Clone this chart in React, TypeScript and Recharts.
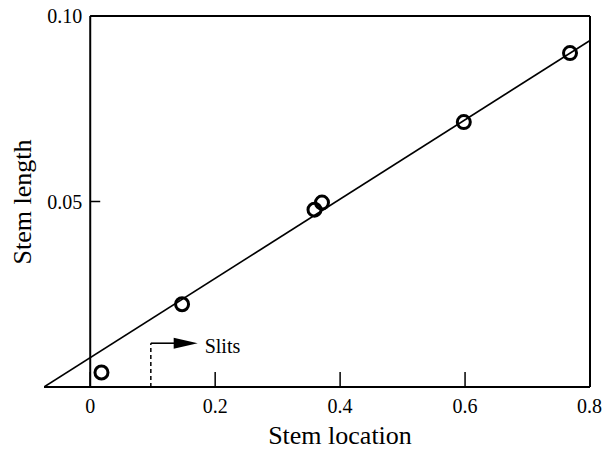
import React from 'react';
import {
  ComposedChart,
  Scatter,
  Line,
  XAxis,
  YAxis,
  ReferenceLine,
  ReferenceDot
} from 'recharts';

// measured points
const stemLocation = [0.018, 0.147, 0.359, 0.371, 0.598, 0.768];
const stemLength = [0.0039, 0.0223, 0.0478, 0.0497, 0.0714, 0.09];

// fitted line end points
const fitLocation = [-0.074, 0.8];
const fitLength = [0, 0.0934];

const xTicks = [0, 0.2, 0.4, 0.6, 0.8];
const xTickLabels = ['0', '0.2', '0.4', '0.6', '0.8'];
const yTicks = [0.05, 0.1];
const yTickLabels = ['0.05', '0.10'];

// "Slits" marker
const slitStart = 0.097;
const slitShaftEnd = 0.135;
const slitArrowTip = 0.172;
const slitLevel = 0.0118;

const X_MIN = -0.074;
const X_MAX = 0.8;
const FONT = 'Liberation Serif, Times New Roman, serif';

const WIDTH = 602;
const HEIGHT = 450;
const PLOT_LEFT = 44;
const PLOT_RIGHT = 590;
const ZERO_X = PLOT_LEFT + ((0 - X_MIN) / (X_MAX - X_MIN)) * (PLOT_RIGHT - PLOT_LEFT);

const points = stemLocation.map((x, i) => ({ x, y: stemLength[i] }));
const fit = fitLocation.map((x, i) => ({ x, y: fitLength[i] }));

const OpenCircle = (props: any) => (
  <circle cx={props.cx} cy={props.cy} r={6.5} fill="none" stroke="#000" strokeWidth={3} />
);

const YTick = (props: any) => {
  const { y, payload } = props;
  const idx = yTicks.indexOf(payload.value);
  return (
    <g>
      <text
        x={ZERO_X - 8}
        y={y}
        textAnchor="end"
        dominantBaseline="central"
        fill="#000"
        fontSize={20}
        style={{ fontFamily: FONT }}
      >
        {yTickLabels[idx]}
      </text>
      <line x1={ZERO_X} x2={ZERO_X + 10} y1={y} y2={y} stroke="#000" strokeWidth={1.5} />
    </g>
  );
};

const SlitArrow = (props: any) => {
  const { cx, cy } = props;
  return (
    <g>
      <polygon points={`${cx},${cy} ${cx - 24},${cy - 5.5} ${cx - 24},${cy + 5.5}`} fill="#000" />
      <text x={cx + 7} y={cy + 3} dominantBaseline="central" fontSize={20} style={{ fontFamily: FONT }} fill="#000">
        Slits
      </text>
    </g>
  );
};

export default function App() {
  return (
    <div style={{ position: 'absolute', left: 0, top: 0, background: '#fff' }}>
      <ComposedChart
        width={WIDTH}
        height={HEIGHT}
        margin={{ top: 16, right: WIDTH - PLOT_RIGHT, bottom: 0, left: 0 }}
      >
        <XAxis
          type="number"
          dataKey="x"
          domain={[X_MIN, X_MAX]}
          ticks={xTicks}
          tickFormatter={(v: number) => xTickLabels[xTicks.indexOf(v)]}
          allowDataOverflow
          height={63}
          tickSize={-15}
          tickMargin={27}
          axisLine={{ stroke: '#000', strokeWidth: 2 }}
          tickLine={{ stroke: '#000', strokeWidth: 1.5 }}
          tick={{ fill: '#000', fontSize: 20, style: { fontFamily: FONT } }}
          label={{
            content: () => (
              <text x={340} y={435} textAnchor="middle" dominantBaseline="central" fontSize={26} style={{ fontFamily: FONT }} fill="#000">
                Stem location
              </text>
            )
          }}
        />
        <YAxis
          type="number"
          dataKey="y"
          domain={[0, 0.1]}
          ticks={yTicks}
          allowDataOverflow
          width={PLOT_LEFT}
          axisLine={false}
          tickLine={false}
          tick={<YTick />}
          label={{
            content: () => (
              <text
                x={22}
                y={202}
                textAnchor="middle"
                dominantBaseline="central"
                fontSize={26}
                style={{ fontFamily: FONT }}
                fill="#000"
                transform="rotate(-90 22 202)"
              >
                Stem length
              </text>
            )
          }}
        />
        {/* frame */}
        <ReferenceLine x={0} stroke="#000" strokeWidth={2} />
        <ReferenceLine x={X_MAX} stroke="#000" strokeWidth={2} />
        <ReferenceLine segment={[{ x: 0, y: 0.1 }, { x: X_MAX, y: 0.1 }]} stroke="#000" strokeWidth={2} />

        {/* slits marker */}
        <ReferenceLine
          segment={[{ x: slitStart, y: 0 }, { x: slitStart, y: slitLevel }]}
          stroke="#000"
          strokeWidth={1.5}
          strokeDasharray="4 3"
        />
        <ReferenceLine
          segment={[{ x: slitStart, y: slitLevel }, { x: slitShaftEnd, y: slitLevel }]}
          stroke="#000"
          strokeWidth={1.6}
        />
        <ReferenceDot x={slitArrowTip} y={slitLevel} r={1} shape={<SlitArrow />} />

        <Line
          data={fit}
          dataKey="y"
          type="linear"
          stroke="#000"
          strokeWidth={1.6}
          dot={false}
          activeDot={false}
          isAnimationActive={false}
        />
        <Scatter data={points} dataKey="y" shape={<OpenCircle />} isAnimationActive={false} />
      </ComposedChart>
    </div>
  );
}
